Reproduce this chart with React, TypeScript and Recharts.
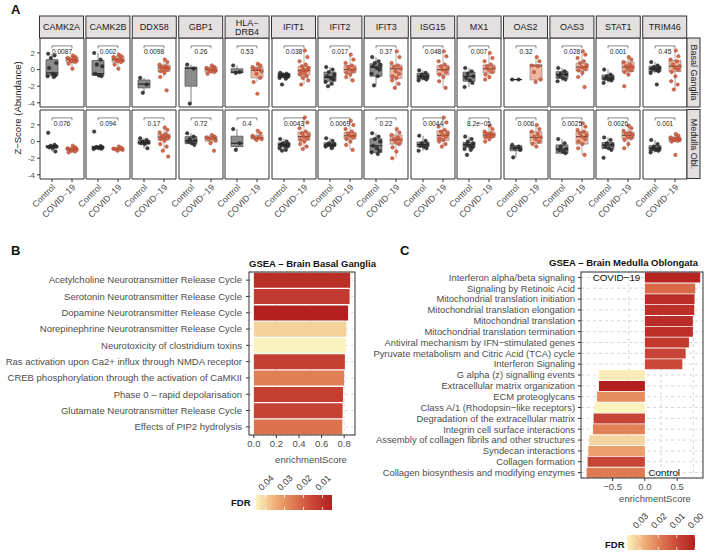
import React from 'react';
import {
  ComposedChart, Scatter, XAxis, YAxis, ReferenceArea, ReferenceLine, ReferenceDot,
  BarChart, Bar, Cell, CartesianGrid,
} from 'recharts';

const FONT = '"Liberation Sans", Arial, Helvetica, sans-serif';

// ---------------- Panel A data ----------------
const GENES = ['CAMK2A', 'CAMK2B', 'DDX58', 'GBP1', 'HLA\u2212DRB4', 'IFIT1', 'IFIT2', 'IFIT3', 'ISG15', 'MX1', 'OAS2', 'OAS3', 'STAT1', 'TRIM46'];
const REGIONS = ['Basal Ganglia', 'Medulla Obl.'];
const GROUPS = ['Control', 'COVID\u221219'];
const Y_TICKS = [-4, -2, 0, 2];

const P_BG = ['0.0087', '0.002', '0.0098', '0.26', '0.53', '0.038', '0.017', '0.37', '0.048', '0.007', '0.32', '0.028', '0.001', '0.45'];
const P_MO = ['0.076', '0.094', '0.17', '0.72', '0.4', '0.0043', '0.0069', '0.22', '0.0044', '8.2e\u221205', '0.006', '0.0025', '0.0026', '0.001'];

// box stats: [min, q1, median, q3, max]
const BG_CTRL_BOX = [
  [-0.9, -0.7, -0.4, 1.2, 1.9], [-0.8, -0.7, -0.5, 1.1, 2.0], [-2.8, -2.2, -1.75, -1.25, -1.0],
  [-4.1, -2.0, 0.15, 0.3, 0.6], [-0.45, -0.4, -0.3, 0.1, 0.5], [-1.1, -0.95, -0.7, -0.45, -0.4],
  [-2.0, -1.4, -0.9, -0.3, 0.3], [-1.9, -0.8, 0.3, 0.7, 1.5], [-1.3, -1.15, -0.8, -0.45, -0.1],
  [-2.1, -1.4, -0.8, -0.3, 0.2], [-1.2, -1.2, -1.2, -1.2, -1.2], [-1.4, -1.05, -0.6, -0.25, 0.2],
  [-1.6, -1.25, -1.0, -0.65, 0.0], [-0.4, -0.25, 0.1, 0.4, 0.9],
];
const BG_COVID_BOX = [
  [0.1, 0.9, 1.2, 1.5, 1.7], [0.1, 0.9, 1.2, 1.6, 1.8], [-0.9, -0.25, 0.2, 0.55, 1.2],
  [-0.5, -0.3, 0.0, 0.3, 0.5], [-1.5, -1.0, -0.1, 0.3, 0.7], [-1.8, -0.65, -0.1, 0.4, 2.3],
  [-1.3, -0.4, 0.0, 0.5, 1.8], [-2.2, -1.05, 0.1, 0.55, 2.2], [-2.2, -0.65, 0.0, 0.5, 2.2],
  [-1.2, -0.4, 0.1, 0.55, 2.0], [-1.5, -1.25, 0.45, 0.6, 1.5], [-0.9, -0.15, 0.3, 0.75, 2.2],
  [-0.6, -0.25, 0.3, 0.9, 1.5], [-2.4, -0.25, 0.4, 1.1, 2.3],
];
const MO_CTRL_BOX = [
  [-1.2, -0.75, -0.6, -0.45, -0.4], [-0.9, -0.85, -0.7, -0.55, -0.55], [-0.8, -0.3, -0.1, 0.15, 0.4],
  [-0.4, -0.25, 0.1, 0.6, 1.0], [-1.0, -0.6, -0.2, 0.65, 1.5], [-1.1, -0.65, -0.35, -0.15, 0.3],
  [-0.8, -0.55, -0.4, -0.15, 0.4], [-1.5, -1.3, -0.5, 0.35, 1.0], [-1.1, -0.65, -0.35, -0.05, 0.7],
  [-1.0, -0.7, -0.4, -0.1, 0.6], [-1.9, -1.1, -0.8, -0.5, -0.4], [-1.4, -1.4, -0.9, -0.4, 0.3],
  [-1.0, -0.85, -0.4, -0.1, 0.5], [-1.3, -1.1, -0.8, -0.5, 0.2],
];
const MO_COVID_BOX = [
  [-1.3, -1.05, -0.9, -0.75, -0.5], [-1.1, -1.0, -0.9, -0.75, -0.6], [-1.1, 0.2, 0.55, 0.9, 1.7],
  [-0.2, 0.05, 0.4, 0.65, 0.8], [0.2, 0.3, 0.5, 0.75, 1.3], [-0.9, 0.15, 0.6, 1.15, 2.9],
  [-1.0, 0.3, 0.7, 1.1, 2.5], [-2.0, -0.3, 0.2, 0.8, 1.5], [-0.6, 0.15, 0.75, 1.3, 2.9],
  [0.0, 0.5, 0.8, 1.15, 1.9], [-0.6, -0.2, 0.5, 1.2, 2.0], [-1.6, -0.3, 0.6, 1.2, 2.2],
  [-0.8, 0.35, 0.75, 1.15, 1.9], [-0.1, 0.0, 0.3, 0.55, 0.9],
];

// individual samples
const BG_CTRL_PTS = [
  [1.9, 1.7, 1.4, 0.8, 0.2, -0.5, -0.7, -0.8, -0.9], [2.0, 1.2, 0.6, 0.4, -0.5, -0.7, -0.8],
  [-1.0, -1.8, -2.8], [0.6, 0.1, -4.1], [0.5, -0.3, -0.4],
  [-0.4, -0.5, -0.6, -0.7, -0.75, -0.8, -0.9, -1.0, -1.1, -1.8],
  [0.3, 0.0, -0.3, -0.6, -0.8, -1.0, -1.2, -1.5, -1.7, -2.0],
  [1.5, 1.0, 0.8, 0.6, 0.4, 0.2, 0.0, -0.5, -0.8, -1.9],
  [-0.1, -0.4, -0.6, -0.8, -0.9, -1.0, -1.2, -1.3], [0.2, -0.2, -0.5, -0.8, -1.0, -1.3, -1.6, -2.1],
  [-1.2, -1.2], [0.2, -0.2, -0.5, -0.6, -0.8, -1.0, -1.2, -1.4],
  [0.0, -0.6, -0.8, -1.0, -1.1, -1.2, -1.3, -1.6], [0.9, 0.5, 0.3, 0.2, 0.1, 0.0, -0.2, -0.4, -1.8],
];
const BG_COVID_PTS = [
  [1.7, 1.5, 1.4, 1.3, 1.2, 1.1, 1.0, 0.9, 0.7, 0.1], [1.8, 1.6, 1.5, 1.3, 1.2, 1.1, 1.0, 0.9, 0.6, 0.1],
  [1.2, 0.9, 0.6, 0.4, 0.3, 0.2, 0.1, 0.0, -0.2, -0.4, -0.9, -2.5],
  [0.5, 0.3, 0.2, 0.1, 0.0, -0.1, -0.2, -0.3, -0.5],
  [0.7, 0.5, 0.3, 0.1, 0.0, -0.2, -0.5, -1.0, -1.5, -2.9],
  [2.3, 1.5, 1.0, 0.6, 0.4, 0.2, 0.0, -0.1, -0.2, -0.4, -0.6, -0.8, -1.0, -1.3, -1.8],
  [1.8, 1.2, 0.8, 0.5, 0.3, 0.1, 0.0, -0.2, -0.4, -0.6, -0.9, -1.3],
  [2.2, 1.5, 0.8, 0.5, 0.3, 0.1, -0.2, -0.5, -0.8, -1.0, -1.3, -1.7, -2.2],
  [2.2, 1.6, 1.0, 0.6, 0.4, 0.2, 0.0, -0.3, -0.6, -0.9, -1.4, -2.2],
  [2.0, 1.4, 1.0, 0.6, 0.4, 0.2, 0.0, -0.3, -0.6, -0.9, -1.2],
  [1.5, 1.0, 0.5, 0.4, -0.3, -1.2, -1.5],
  [2.2, 1.8, 1.4, 1.0, 0.8, 0.5, 0.3, 0.1, -0.1, -0.4, -0.9, -2.1],
  [1.5, 1.2, 0.9, 0.6, 0.4, 0.3, 0.1, -0.1, -0.3, -0.6, -2.0],
  [2.3, 1.6, 1.2, 1.0, 0.6, 0.4, 0.2, 0.0, -0.3, -0.8, -1.4, -1.8, -2.4],
];
const MO_CTRL_PTS = [
  [1.05, -0.4, -0.5, -0.6, -0.7, -0.8, -1.2], [1.2, -0.55, -0.65, -0.7, -0.75, -0.8, -0.85, -0.9],
  [0.4, 0.2, 0.0, -0.1, -0.2, -0.3, -0.8], [1.0, 0.6, 0.3, 0.1, 0.0, -0.2, -0.4], [1.5, -0.2, -1.0],
  [0.3, 0.0, -0.2, -0.3, -0.4, -0.5, -0.6, -0.8, -1.0, -1.1],
  [0.4, 0.1, -0.2, -0.3, -0.4, -0.45, -0.5, -0.6, -0.8],
  [1.0, 0.6, 0.3, 0.0, -0.5, -0.8, -1.1, -1.3, -1.5],
  [0.7, 0.1, -0.2, -0.35, -0.5, -0.6, -0.8, -1.1],
  [0.6, 0.3, 0.0, -0.2, -0.4, -0.5, -0.7, -0.9, -1.0, -1.6],
  [-0.4, -0.6, -0.8, -1.0, -1.9], [0.3, -0.2, -0.6, -0.9, -1.0, -1.2, -1.4],
  [0.5, 0.2, -0.2, -0.4, -0.6, -0.8, -1.0, -1.95], [0.2, -0.3, -0.6, -0.8, -0.9, -1.0, -1.1, -1.3],
];
const MO_COVID_PTS = [
  [-0.5, -0.7, -0.8, -0.9, -0.95, -1.0, -1.1, -1.2, -1.3], [-0.6, -0.75, -0.85, -0.9, -0.95, -1.0, -1.1],
  [1.7, 1.4, 1.1, 0.9, 0.7, 0.6, 0.5, 0.4, 0.3, 0.1, -0.3, -0.6, -1.1, -1.8],
  [0.8, 0.6, 0.5, 0.4, 0.3, 0.1, -0.2, -1.1], [1.3, 1.0, 0.7, 0.5, 0.4, 0.3, 0.2],
  [2.9, 2.3, 1.6, 1.2, 1.0, 0.8, 0.6, 0.4, 0.2, 0.0, -0.3, -0.6, -0.9],
  [2.5, 2.0, 1.5, 1.2, 1.0, 0.8, 0.7, 0.5, 0.3, 0.0, -0.4, -1.0],
  [1.5, 1.1, 0.8, 0.5, 0.3, 0.2, 0.0, -0.3, -0.7, -1.2, -2.0],
  [2.9, 2.3, 1.8, 1.4, 1.2, 1.0, 0.8, 0.6, 0.4, 0.2, 0.0, -0.3, -0.6],
  [1.9, 1.5, 1.2, 1.0, 0.9, 0.8, 0.7, 0.6, 0.5, 0.3, 0.0],
  [2.0, 1.5, 1.2, 0.9, 0.6, 0.5, 0.3, 0.0, -0.3, -0.6],
  [2.2, 1.8, 1.4, 1.2, 1.0, 0.8, 0.6, 0.3, 0.0, -0.3, -0.8, -1.6],
  [1.9, 1.6, 1.3, 1.1, 0.9, 0.8, 0.6, 0.4, 0.2, -0.3, -0.8],
  [0.9, 0.7, 0.5, 0.4, 0.3, 0.25, 0.2, 0.1, 0.0, -1.6],
];

// ---------------- Panel B data ----------------
const B_PATHWAYS = [
  'Acetylcholine Neurotransmitter Release Cycle', 'Serotonin Neurotransmitter Release Cycle',
  'Dopamine Neurotransmitter Release Cycle', 'Norepinephrine Neurotransmitter Release Cycle',
  'Neurotoxicity of clostridium toxins', 'Ras activation upon Ca2+ influx through NMDA receptor',
  'CREB phosphorylation through the activation of CaMKII', 'Phase 0 \u2013 rapid depolarisation',
  'Glutamate Neurotransmitter Release Cycle', 'Effects of PIP2 hydrolysis',
];
const B_ES = [0.853, 0.848, 0.835, 0.82, 0.815, 0.806, 0.8, 0.79, 0.786, 0.783];
const B_FDR = [0.009, 0.012, 0.005, 0.04, 0.045, 0.013, 0.026, 0.013, 0.014, 0.024];
const B_TICKS = [0, 0.2, 0.4, 0.6, 0.8];
const B_LEGEND_TICKS = [0.04, 0.03, 0.02, 0.01];

// ---------------- Panel C data ----------------
const C_PATHWAYS = [
  'Interferon alpha/beta signaling', 'Signaling by Retinoic Acid', 'Mitochondrial translation initiation',
  'Mitochondrial translation elongation', 'Mitochondrial translation', 'Mitochondrial translation termination',
  'Antiviral mechanism by IFN\u2212stimulated genes', 'Pyruvate metabolism and Citric Acid (TCA) cycle',
  'Interferon Signaling', 'G alpha (z) signalling events', 'Extracellular matrix organization',
  'ECM proteoglycans', 'Class A/1 (Rhodopsin\u2212like receptors)', 'Degradation of the extracellular matrix',
  'Integrin cell surface interactions', 'Assembly of collagen fibrils and other structures',
  'Syndecan interactions', 'Collagen formation', 'Collagen biosynthesis and modifying enzymes',
];
const C_ES = [0.857, 0.78, 0.769, 0.764, 0.743, 0.743, 0.682, 0.631, 0.58, -0.712, -0.712, -0.743, -0.785, -0.795, -0.805, -0.862, -0.877, -0.887, -0.903];
const C_FDR = [0.001, 0.016, 0.003, 0.004, 0.003, 0.004, 0.006, 0.009, 0.01, 0.036, 0.00005, 0.022, 0.037, 0.009, 0.02, 0.033, 0.025, 0.009, 0.019];
const C_TICKS = [-0.5, 0, 0.5];
const C_LEGEND_TICKS = [0.03, 0.02, 0.01, 0.0];

// ---------------- colour scale ----------------
const PAL: [number, string][] = [[0, '#B3201F'], [0.25, '#C84637'], [0.5, '#DE7850'], [0.75, '#F0B078'], [1, '#FBF3BE']];
function hex(c: string) { return [1, 3, 5].map((i) => parseInt(c.slice(i, i + 2), 16)); }
function palColor(t: number) {
  const u = Math.max(0, Math.min(1, t));
  for (let i = 1; i < PAL.length; i++) {
    if (u <= PAL[i][0]) {
      const [t0, c0] = PAL[i - 1];
      const [t1, c1] = PAL[i];
      const f = (u - t0) / (t1 - t0);
      const a = hex(c0), b = hex(c1);
      return `rgb(${a.map((v, k) => Math.round(v + (b[k] - v) * f)).join(',')})`;
    }
  }
  return PAL[PAL.length - 1][1];
}
const fdrColor = (f: number, lo: number, hi: number) => palColor((f - lo) / (hi - lo));

// ---------------- panel A geometry ----------------
const X0 = 39.5, PITCH = 46.4, PW = 44, PH = 69;
const ROW_TOP = [38, 109.5];
const Y_DOM: [number, number] = [-4.5, 3.8];
const X_DOM: [number, number] = [0.4, 2.6];
const JIT = [-0.19, 0.13, -0.06, 0.21, -0.14, 0.04, 0.17, -0.22, 0.09, -0.1, 0.23, -0.02, 0.15, -0.17, 0.02];

const CTRL_FILL = '#8c8c8c', CTRL_EDGE = '#4d4d4d', CTRL_MED = '#262626', CTRL_PT = '#2f2f2f';
const COV_FILL = '#F0B6A2', COV_EDGE = '#9a8a86', COV_MED = '#6b4a42', COV_PT = '#D2603F', COV_PT_EDGE = '#9b3a26';

function boxEls(key: string, c: number, s: number[], fill: string, edge: string, med: string) {
  const [mn, q1, md, q3, mx] = s;
  const hw = 0.3;
  return [
    <ReferenceLine key={key + 'w1'} segment={[{ x: c, y: q3 }, { x: c, y: mx }]} stroke={edge} strokeWidth={0.7} ifOverflow="visible" />,
    <ReferenceLine key={key + 'w2'} segment={[{ x: c, y: mn }, { x: c, y: q1 }]} stroke={edge} strokeWidth={0.7} ifOverflow="visible" />,
    <ReferenceArea key={key + 'b'} x1={c - hw} x2={c + hw} y1={q1} y2={q3} fill={fill} fillOpacity={1} stroke={edge} strokeWidth={0.7} ifOverflow="visible" />,
    <ReferenceArea key={key + 'm'} x1={c - hw} x2={c + hw} y1={md - 0.07} y2={md + 0.07} fill={med} fillOpacity={1} stroke="none" ifOverflow="visible" />,
  ];
}

const dotShape = (fill: string, edge: string) => (p: any) => (
  <circle cx={p.cx} cy={p.cy} r={1.8} fill={fill} stroke={edge} strokeWidth={0.4} fillOpacity={0.92} />
);

const XTick = (p: any) => {
  const { x, y, payload } = p;
  const label = payload.value === 1 ? GROUPS[0] : GROUPS[1];
  return (
    <text x={x} y={y} dy={5.5} textAnchor="end" transform={`rotate(-45 ${x} ${y})`} fontSize={8.8} fill="#4d4d4d" fontFamily={FONT}>
      {label}
    </text>
  );
};

function GenePanel({ gi, row }: { gi: number; row: number }) {
  const first = gi === 0;
  const bottom = row === 1;
  const yW = first ? 16 : 0;
  const xH = bottom ? 52 : 0;
  const cBox = (row === 0 ? BG_CTRL_BOX : MO_CTRL_BOX)[gi];
  const vBox = (row === 0 ? BG_COVID_BOX : MO_COVID_BOX)[gi];
  const cPts = (row === 0 ? BG_CTRL_PTS : MO_CTRL_PTS)[gi].map((v, i) => ({ x: 1 + JIT[i % JIT.length], y: v }));
  const vPts = (row === 0 ? BG_COVID_PTS : MO_COVID_PTS)[gi].map((v, i) => ({ x: 2 + JIT[(i + 5) % JIT.length], y: v }));
  const p = (row === 0 ? P_BG : P_MO)[gi];
  return (
    <div style={{ position: 'absolute', left: X0 + gi * PITCH - yW, top: ROW_TOP[row] }}>
      <ComposedChart width={PW + yW} height={PH + xH} margin={{ top: 0, right: 0, bottom: 0, left: 0 }}>
        <XAxis type="number" dataKey="x" domain={X_DOM} ticks={[1, 2]} allowDataOverflow hide={!bottom} height={xH}
          tick={<XTick />} tickSize={3} tickLine={{ stroke: '#333' }} axisLine={false} interval={0} />
        <YAxis type="number" dataKey="y" domain={Y_DOM} ticks={Y_TICKS} allowDataOverflow hide={!first} width={yW}
          tick={{ fontSize: 8, fill: '#4d4d4d', fontFamily: FONT }} tickSize={3} tickLine={{ stroke: '#333' }} axisLine={false} interval={0} />
        {boxEls('c', 1, cBox, CTRL_FILL, CTRL_EDGE, CTRL_MED)}
        {boxEls('v', 2, vBox, COV_FILL, COV_EDGE, COV_MED)}
        <ReferenceLine segment={[{ x: 1, y: 2.85 }, { x: 2, y: 2.85 }]} stroke="#333" strokeWidth={0.6} ifOverflow="visible" />
        <ReferenceLine segment={[{ x: 1, y: 2.85 }, { x: 1, y: 2.55 }]} stroke="#333" strokeWidth={0.6} ifOverflow="visible" />
        <ReferenceLine segment={[{ x: 2, y: 2.85 }, { x: 2, y: 2.55 }]} stroke="#333" strokeWidth={0.6} ifOverflow="visible" />
        <Scatter data={cPts} isAnimationActive={false} shape={dotShape(CTRL_PT, '#1a1a1a')} />
        <Scatter data={vPts} isAnimationActive={false} shape={dotShape(COV_PT, COV_PT_EDGE)} />
        <ReferenceDot x={1.5} y={2.2} r={0.5} fill="none" stroke="none" ifOverflow="visible"
          label={{ value: p, position: 'center', fontSize: 6.6, fill: '#222', fontFamily: FONT }} />
        <ReferenceArea x1={X_DOM[0]} x2={X_DOM[1]} y1={Y_DOM[0]} y2={Y_DOM[1]} fill="none" stroke="#333" strokeWidth={1} ifOverflow="visible" />
      </ComposedChart>
    </div>
  );
}

// ---------------- B / C helpers ----------------
const makeYTick = (fs: number) => (p: any) => (
  <text x={p.x} y={p.y} dy="0.35em" textAnchor="end" fontSize={fs} fill="#4d4d4d" fontFamily={FONT}>
    {p.payload.value}
  </text>
);

const B_LO = Math.min(...B_FDR), B_HI = Math.max(...B_FDR);
const C_LO = Math.min(...C_FDR), C_HI = Math.max(...C_FDR);
const B_DOM: [number, number] = [-0.043, 0.896];
const C_DOM: [number, number] = [-0.99, 0.9];

function ColorBar({ x, y, w, h, lo, hi, ticks, id, labelY }: any) {
  const stops = PAL.map(([t, c]) => ({ off: 1 - t, c })).reverse();
  return (
    <g>
      <defs>
        <linearGradient id={id} x1="0" x2="1" y1="0" y2="0">
          {stops.map((s, i) => <stop key={i} offset={s.off} stopColor={s.c} />)}
        </linearGradient>
      </defs>
      <rect x={x} y={y} width={w} height={h} fill={`url(#${id})`} />
      {ticks.map((v: number) => {
        const tx = x + ((hi - v) / (hi - lo)) * w;
        return (
          <g key={v}>
            <line x1={tx} x2={tx} y1={y} y2={y + 3} stroke="#fff" strokeWidth={0.8} />
            <line x1={tx} x2={tx} y1={y + h - 3} y2={y + h} stroke="#fff" strokeWidth={0.8} />
            <text x={tx - 3.5} y={labelY} transform={`rotate(-45 ${tx - 3.5} ${labelY})`} fontSize={9} fill="#333" fontFamily={FONT}>
              {v.toFixed(2)}
            </text>
          </g>
        );
      })}
    </g>
  );
}

export default function App() {
  const bData = B_PATHWAYS.map((n, i) => ({ name: n, es: B_ES[i], fdr: B_FDR[i] }));
  const cData = C_PATHWAYS.map((n, i) => ({ name: n, es: C_ES[i], fdr: C_FDR[i] }));
  const panels: React.ReactNode[] = [];
  for (let r = 0; r < 2; r++) for (let g = 0; g < GENES.length; g++) panels.push(<GenePanel key={`${r}-${g}`} gi={g} row={r} />);

  return (
    <div style={{ position: 'absolute', left: 0, top: 0, width: 709, height: 552, background: '#fff', fontFamily: FONT, overflow: 'hidden' }}>
      <style>{'.recharts-surface{overflow:visible !important}.recharts-wrapper{overflow:visible !important}'}</style>
      {panels}

      {/* Panel B */}
      <div style={{ position: 'absolute', left: 0, top: 272 }}>
        <BarChart layout="vertical" width={355} height={191} data={bData} margin={{ top: 0, right: 0, bottom: 0, left: 0 }} barCategoryGap="5%">
          <CartesianGrid strokeDasharray="3 3" stroke="#dcdcdc" verticalValues={[0, 0.1, 0.2, 0.3, 0.4, 0.5, 0.6, 0.7, 0.8]} />
          <XAxis type="number" dataKey="es" domain={B_DOM} ticks={B_TICKS} allowDataOverflow height={28}
            tickFormatter={(v: number) => v.toFixed(1)} tick={{ fontSize: 9.5, fill: '#4d4d4d', fontFamily: FONT }}
            tickSize={3} tickLine={{ stroke: '#333' }} axisLine={false}
            label={{ value: 'enrichmentScore', position: 'insideBottom', offset: 0, dx: 9, fontSize: 9.5, fill: '#4d4d4d', fontFamily: FONT }} />
          <YAxis type="category" dataKey="name" width={249} interval={0} tick={makeYTick(9.5)} tickSize={3} tickMargin={4}
            tickLine={{ stroke: '#333' }} axisLine={false} />
          <Bar dataKey="es" isAnimationActive={false}>
            {bData.map((d, i) => <Cell key={i} fill={fdrColor(d.fdr, B_LO, B_HI)} />)}
          </Bar>
        </BarChart>
      </div>

      {/* Panel C */}
      <div style={{ position: 'absolute', left: 365, top: 272 }}>
        <BarChart layout="vertical" width={338} height={230} data={cData} margin={{ top: 0, right: 0, bottom: 0, left: 0 }} barCategoryGap="5%">
          <CartesianGrid strokeDasharray="3 3" stroke="#d6d6d6" verticalValues={[-0.75, -0.5, -0.25, 0, 0.25, 0.5, 0.75]} />
          <XAxis type="number" dataKey="es" domain={C_DOM} ticks={C_TICKS} allowDataOverflow height={24}
            tickFormatter={(v: number) => (v === 0 ? '0.0' : (v < 0 ? '\u2212' : '') + Math.abs(v).toFixed(1))}
            tick={{ fontSize: 9.5, fill: '#4d4d4d', fontFamily: FONT }} tickSize={3} tickLine={{ stroke: '#333' }} axisLine={false}
            label={{ value: 'enrichmentScore', position: 'insideBottom', offset: 0, dx: 13, fontSize: 9.5, fill: '#4d4d4d', fontFamily: FONT }} />
          <YAxis type="category" dataKey="name" width={216} interval={0} tick={makeYTick(9.4)} tickSize={3} tickMargin={3}
            tickLine={{ stroke: '#333' }} axisLine={false} />
          <Bar dataKey="es" isAnimationActive={false}>
            {cData.map((d, i) => <Cell key={i} fill={fdrColor(d.fdr, C_LO, C_HI)} />)}
          </Bar>
          <ReferenceDot x={-0.44} y={C_PATHWAYS[0]} r={0.5} fill="none" stroke="none" ifOverflow="visible"
            label={{ value: 'COVID\u221219', position: 'center', fontSize: 9.8, fill: '#111', fontFamily: FONT }} />
          <ReferenceDot x={0.3} y={C_PATHWAYS[C_PATHWAYS.length - 1]} r={0.5} fill="none" stroke="none" ifOverflow="visible"
            label={{ value: 'Control', position: 'center', fontSize: 9.8, fill: '#111', fontFamily: FONT }} />
        </BarChart>
      </div>

      {/* overlay: strips, titles, borders, legends */}
      <svg width={709} height={552} style={{ position: 'absolute', left: 0, top: 0, pointerEvents: 'none' }} fontFamily={FONT}>
        <text x={11} y={9} dominantBaseline="central" fontSize={13} fontWeight="bold" fill="#111">A</text>
        <text x={11} y={250} dominantBaseline="central" fontSize={13} fontWeight="bold" fill="#111">B</text>
        <text x={400} y={250} dominantBaseline="central" fontSize={13} fontWeight="bold" fill="#111">C</text>

        {GENES.map((g, i) => {
          const x = X0 + i * PITCH;
          const parts = g.includes('\u2212') ? [g.split('\u2212')[0] + '\u2212', g.split('\u2212')[1]] : [g];
          return (
            <g key={g}>
              <rect x={x} y={16} width={PW} height={22} fill="#E4E0E0" stroke="#333" strokeWidth={1} />
              {parts.map((t, k) => (
                <text key={k} x={x + PW / 2} y={parts.length === 1 ? 27 : 22.5 + k * 9.5} textAnchor="middle" dominantBaseline="central" fontSize={9} fill="#1a1a1a">{t}</text>
              ))}
            </g>
          );
        })}
        {REGIONS.map((r, i) => (
          <g key={r}>
            <rect x={687} y={ROW_TOP[i]} width={13} height={PH} fill="#E4E0E0" stroke="#333" strokeWidth={1} />
            <text transform={`translate(693.5 ${ROW_TOP[i] + PH / 2}) rotate(90)`} textAnchor="middle" dominantBaseline="central" fontSize={9} fill="#1a1a1a">{r}</text>
          </g>
        ))}
        <text transform="translate(17 108) rotate(-90)" textAnchor="middle" dominantBaseline="central" fontSize={9.5} fill="#1a1a1a">Z{'\u2212'}Score (Abundance)</text>

        <text x={249} y={263} dominantBaseline="central" fontSize={9.5} fontWeight="bold" fill="#111">GSEA {'\u2013'} Brain Basal Ganglia</text>
        <text x={549} y={262} dominantBaseline="central" fontSize={9.5} fontWeight="bold" fill="#111">GSEA {'\u2013'} Brain Medulla Oblongata</text>

        <rect x={249} y={272} width={106} height={163} fill="none" stroke="#333" strokeWidth={1} />
        <rect x={581} y={272} width={122} height={206} fill="none" stroke="#333" strokeWidth={1} />

        <text x={231} y={502} dominantBaseline="central" fontSize={9.5} fontWeight="bold" fill="#111">FDR</text>
        <ColorBar x={256} y={495} w={76} h={15} lo={B_LO} hi={B_HI} ticks={B_LEGEND_TICKS} id="gradB" labelY={491} />
        <text x={605} y={544} dominantBaseline="central" fontSize={9.5} fontWeight="bold" fill="#111">FDR</text>
        <ColorBar x={627} y={535} w={68} h={15} lo={C_LO} hi={C_HI} ticks={C_LEGEND_TICKS} id="gradC" labelY={529} />
      </svg>
    </div>
  );
}
